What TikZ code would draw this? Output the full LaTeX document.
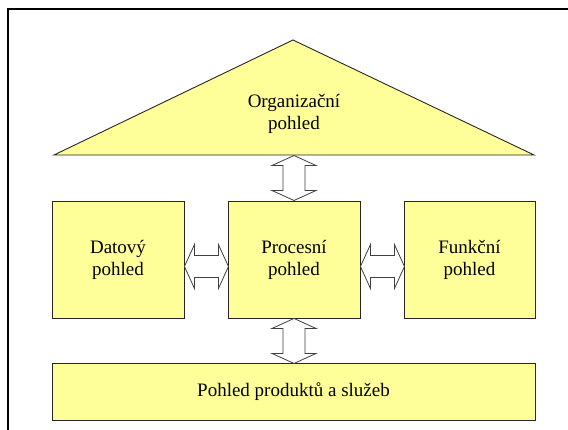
\documentclass[tikz,border=0pt]{standalone}
\usepackage{fontspec}
\setmainfont{Liberation Serif}
\definecolor{viewfill}{HTML}{FFFF99}

\begin{document}
\begin{tikzpicture}[x=1pt,y=-1pt,
  viewbox/.style={draw=black!85,line width=0.9pt,fill=viewfill,inner sep=0pt,align=center,
    font=\rmfamily\fontsize{19}{22}\selectfont},
  viewtext/.style={align=center,inner sep=0pt,font=\rmfamily\fontsize{19}{22}\selectfont},
  dblarrow/.style={draw=black!75,line width=0.8pt,fill=white,line join=miter},
  vdbl/.pic={\draw[dblarrow] (0,0) -- ++(22,10) -- ++(-11,0) -- ++(0,25) -- ++(11,0)
    -- ++(-22,10) -- ++(-22,-10) -- ++(11,0) -- ++(0,-25) -- ++(-11,0) -- cycle;},
  hdbl/.pic={\draw[dblarrow] (0,0) -- ++(10,-22) -- ++(0,11) -- ++(24,0) -- ++(0,-11)
    -- ++(10,22) -- ++(-10,22) -- ++(0,-11) -- ++(-24,0) -- ++(0,11) -- cycle;}]
\useasboundingbox (0,0) rectangle (568,430);
\draw[line width=1.5pt] (8,430) -- (8,9) -- (568,9);

\coordinate (orgLeft)  at ( 54,155);
\coordinate (orgRight) at (534,155);
\coordinate (orgApex)  at (293, 40);
\draw[draw=black!85,line width=0.9pt,fill=viewfill] (orgLeft) -- (orgApex) -- (orgRight) -- cycle;
\node[viewtext]                                        (organizacni) at (294,114)   {Organizační\\pohled};
\coordinate (orgBase) at (294,155.5);

\node[viewbox,minimum width=132pt,minimum height=117pt] (datovy)      at (118,259.5) {Datový\\pohled};
\node[viewbox,minimum width=132pt,minimum height=117pt] (procesni)    at (294,259.5) {Procesní\\pohled};
\node[viewbox,minimum width=131pt,minimum height=117pt] (funkcni)     at (469.5,259.5) {Funkční\\pohled};
\node[viewbox,minimum width=483pt,minimum height=57pt]  (produkty)    at (293.5,391.5) {Pohled produktů a služeb};

\pic (arrowTop)    at (orgBase)                   {vdbl};
\pic (arrowLeft)   at ([yshift=-7pt]datovy.east)  {hdbl};
\pic (arrowRight)  at ([yshift=-7pt]procesni.east) {hdbl};
\pic (arrowBottom) at (procesni.south)            {vdbl};
\end{tikzpicture}
\end{document}
